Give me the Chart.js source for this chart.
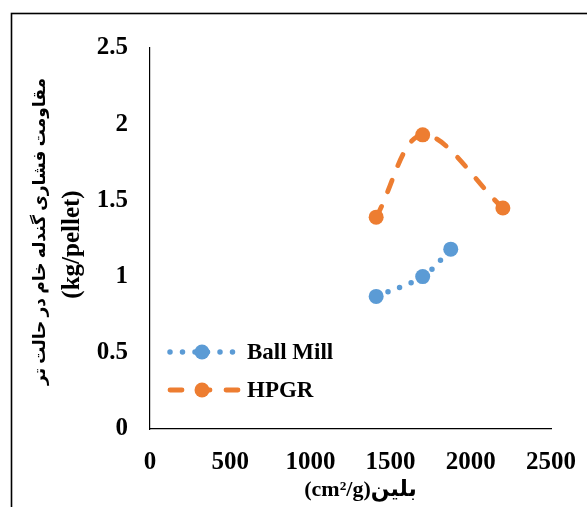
<!DOCTYPE html>
<html>
<head>
<meta charset="utf-8">
<script src="https://cdn.jsdelivr.net/npm/chart.js@4"></script>
<style>
  html, body { margin: 0; padding: 0; background: #fff; }
  canvas { display: block; }
</style>
</head>
<body>
<canvas id="grafico" width="587" height="507"></canvas>
<script>
// بلین (cm2/g) و مقاومت فشاری (kg/pellet)
const ballMillBlaine = [1410, 1700, 1875];
const ballMillStrength = [0.87, 1.0, 1.18];
const hpgrBlaine = [1410, 1700, 2200];
const hpgrStrength = [1.39, 1.93, 1.45];
const seriesNames = ['Ball Mill', 'HPGR'];
const yTitle = ['مقاومت فشاری گندله خام در حالت تر', '(kg/pellet)'];
const xTitle = '(cm²/g)بلین';

const serif = "'Liberation Serif', 'Times New Roman', 'DejaVu Sans', serif";
const azul = '#5B9BD5', naranja = '#ED7D31';

const puntos = (xs, ys) => xs.map((x, i) => ({ x, y: ys[i] }));

// marco alrededor de todo el gráfico
const marco = {
  id: 'marco',
  afterDraw(chart) {
    const ctx = chart.ctx;
    ctx.save();
    ctx.strokeStyle = '#000';
    ctx.lineWidth = 1.6;
    ctx.strokeRect(11.5, 13.5, 700, 700);
    ctx.restore();
  }
};

// títulos de los ejes (dos tamaños distintos en el eje Y)
const titulos = {
  id: 'titulos',
  afterDraw(chart) {
    const ctx = chart.ctx;
    const a = chart.chartArea;
    const cy = (a.top + a.bottom) / 2;
    ctx.save();
    ctx.fillStyle = '#000';
    ctx.textAlign = 'center';
    ctx.textBaseline = 'middle';

    ctx.save();
    ctx.translate(41, cy - 7);
    ctx.rotate(-Math.PI / 2);
    ctx.font = 'bold 17px ' + serif;
    ctx.fillText(yTitle[0], 0, 0);
    ctx.restore();

    ctx.save();
    ctx.translate(73, cy + 6);
    ctx.rotate(-Math.PI / 2);
    ctx.font = 'bold 25px ' + serif;
    ctx.fillText(yTitle[1], 0, 0);
    ctx.restore();

    ctx.font = 'bold 22px ' + serif;
    ctx.fillText(xTitle, (a.left + a.right) / 2 + 10, 490);
    ctx.restore();
  }
};

// leyenda dentro del área, abajo a la izquierda
const leyenda = {
  id: 'leyenda',
  afterDraw(chart) {
    const ctx = chart.ctx;
    const filas = [352, 390];
    ctx.save();
    chart.data.datasets.forEach((ds, i) => {
      const y = filas[i];
      ctx.strokeStyle = ds.borderColor;
      ctx.lineWidth = ds.borderWidth;
      ctx.lineCap = 'round';
      ctx.setLineDash(ds.borderDash);
      ctx.beginPath();
      ctx.moveTo(170, y);
      ctx.lineTo(238, y);
      ctx.stroke();
      ctx.setLineDash([]);
      ctx.fillStyle = ds.pointBackgroundColor;
      ctx.beginPath();
      ctx.arc(202, y, ds.pointRadius, 0, Math.PI * 2);
      ctx.fill();
      ctx.fillStyle = '#000';
      ctx.font = 'bold 23px ' + serif;
      ctx.textBaseline = 'middle';
      ctx.textAlign = 'left';
      ctx.fillText(ds.label, 247, y + 1);
    });
    ctx.restore();
  }
};

new Chart(document.getElementById('grafico'), {
  type: 'line',
  data: {
    datasets: [
      {
        label: seriesNames[0],
        data: puntos(ballMillBlaine, ballMillStrength),
        borderColor: azul,
        backgroundColor: azul,
        pointBackgroundColor: azul,
        pointBorderWidth: 0,
        pointRadius: 7.5,
        borderWidth: 5.5,
        borderDash: [0, 12.5],
        borderCapStyle: 'round',
        tension: 0.35,
        fill: false
      },
      {
        label: seriesNames[1],
        data: puntos(hpgrBlaine, hpgrStrength),
        borderColor: naranja,
        backgroundColor: naranja,
        pointBackgroundColor: naranja,
        pointBorderWidth: 0,
        pointRadius: 7.5,
        borderWidth: 4.8,
        borderDash: [12, 16],
        borderCapStyle: 'round',
        tension: 0.35,
        fill: false
      }
    ]
  },
  options: {
    responsive: false,
    animation: false,
    devicePixelRatio: 1,
    layout: { padding: { top: 48, right: 33, bottom: 0, left: 0 } },
    plugins: {
      legend: { display: false },
      tooltip: { enabled: false }
    },
    scales: {
      x: {
        type: 'linear',
        min: 0,
        max: 2500,
        grid: { display: false },
        border: { display: true, color: '#000', width: 1.2 },
        ticks: {
          stepSize: 500,
          padding: 11,
          color: '#000',
          font: { family: serif, size: 25, weight: 'bold' },
          callback: v => String(v)
        },
        afterFit(scale) { scale.height = 78; }
      },
      y: {
        min: 0,
        max: 2.5,
        grid: { display: false },
        border: { display: true, color: '#000', width: 1.2 },
        ticks: {
          stepSize: 0.5,
          padding: 14,
          color: '#000',
          font: { family: serif, size: 25, weight: 'bold' },
          callback: v => String(v)
        },
        afterFit(scale) { scale.width = 150; }
      }
    }
  },
  plugins: [marco, titulos, leyenda]
});
</script>
</body>
</html>
